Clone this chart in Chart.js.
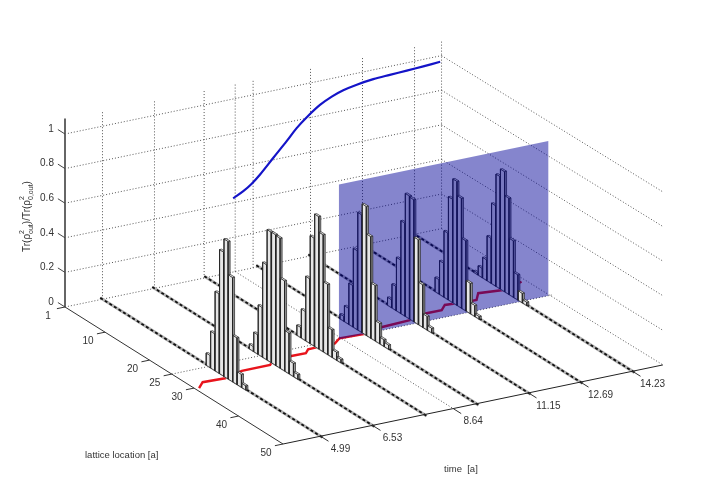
<!DOCTYPE html>
<html>
<head>
<meta charset="utf-8">
<title>Purity vs time and lattice location</title>
<script src="https://cdn.jsdelivr.net/npm/chart.js@4"></script>
<style>
  html, body { margin: 0; padding: 0; background: #fff; }
  canvas { display: block; filter: blur(0.45px); }
</style>
</head>
<body>
<canvas id="chart" width="702" height="499"></canvas>
<script>
// times of the seven histogram rows, and the first lattice site of each one
const rowTimes = [4.99, 6.53, 8.07, 9.61, 11.15, 12.69, 14.23];
const rowFirstSite = [25, 23, 22, 20, 19, 18, 15];

// bar heights per row
const row1 = [0.071, 0.213, 0.46, 0.717, 0.795, 0.603, 0.27, 0.075, 0.025];
const row2 = [0.028, 0.112, 0.286, 0.549, 0.754, 0.755, 0.751, 0.521, 0.235, 0.077, 0.028];
const row3 = [0.059, 0.168, 0.373, 0.624, 0.765, 0.676, 0.406, 0.159, 0.046, 0.02];
const row4 = [0.028, 0.092, 0.239, 0.456, 0.68, 0.745, 0.587, 0.32, 0.118, 0.039, 0.025];
const row5 = [0.046, 0.139, 0.309, 0.537, 0.711, 0.705, 0.49, 0.246, 0.079, 0.027];
const row6 = [0.083, 0.195, 0.384, 0.597, 0.716, 0.635, 0.405, 0.176, 0.064, 0.016];
const row7 = [0.01, 0.054, 0.119, 0.26, 0.465, 0.649, 0.694, 0.556, 0.326, 0.146, 0.055, 0.02];
const rows = [row1, row2, row3, row4, row5, row6, row7];

// blue curve on the back wall
const blueTimes = [8.86, 9.16, 9.41, 9.65, 10.05, 10.45, 10.74, 11.04, 11.43, 11.78, 12.12, 12.52, 13.01, 13.5, 14.0, 14.49, 14.99];
const blueValues = [0.426, 0.455, 0.488, 0.53, 0.612, 0.693, 0.755, 0.806, 0.861, 0.895, 0.918, 0.934, 0.946, 0.951, 0.955, 0.96, 0.966];

// red line on the floor
const redTimes = [3.99, 4.28, 4.92, 5.55, 6.39, 6.5, 7.07, 7.6, 7.79, 8.05, 8.6, 8.88, 9.6, 10.26, 11.09, 11.7, 12.15, 12.4, 13.04, 13.28, 13.56, 14.23, 14.93];
const redSites = [30.3, 28.9, 29.1, 28.07, 28.05, 27.5, 26.8, 26.9, 25.96, 25.9, 25.85, 24.75, 25, 24.1, 23.8, 22.9, 22.9, 21.7, 22.1, 22.15, 20.4, 20.95, 19.75];

// axes
const timeTicks = [4.99, 6.53, 8.92, 11.15, 12.69, 14.23];
const timeTickLabels = ['4.99', '6.53', '8.64', '11.15', '12.69', '14.23'];
const wallTimes = [4.99, 6.53, 8.0, 8.92, 9.45, 11.15, 12.69, 14.23];
const siteTicks = [1, 10, 20, 25, 30, 40, 50];
const valueTicks = [0, 0.2, 0.4, 0.6, 0.8, 1];
const valueTickLabels = ['0', '0.2', '0.4', '0.6', '0.8', '1'];

const tMin = 3.88, tBack = 15.03, tMax = 15.13, zTop = 1.09;
const planeSite = 25, planeStart = 8.83, planeTop = 0.895;

// fixed view of the 3D box onto the flat chart scales
function proj(t, site, z) {
  return {
    x: 65 + (t - tMin) * 33.77 + (site - 1) * 4.449,
    y: 307 - (t - tMin) * 7.03 + (site - 1) * 2.796 - z * 173
  };
}

const sets = [];
function line(points, color, width, dash, tension) {
  sets.push({ data: points, showLine: true, borderColor: color, borderWidth: width, borderDash: dash || [], pointRadius: 0, tension: tension || 0, fill: false });
}
function poly(points, color, stroke, width) {
  sets.push({ data: points.concat([points[0]]), showLine: true, borderColor: stroke, borderWidth: width, backgroundColor: color, pointRadius: 0, tension: 0, fill: 'shape' });
}

function addBar(t, site, h) {
  const hs = 0.46, ht = 0.03;
  poly([proj(t - ht, site - hs, 0), proj(t - ht, site + hs, 0), proj(t - ht, site + hs, h), proj(t - ht, site - hs, h)], '#e6e6e6', '#222', 0.7);
  poly([proj(t - ht, site + hs, 0), proj(t + ht, site + hs, 0), proj(t + ht, site + hs, h), proj(t - ht, site + hs, h)], '#999', '#222', 0.7);
  poly([proj(t - ht, site - hs, h), proj(t - ht, site + hs, h), proj(t + ht, site + hs, h), proj(t + ht, site - hs, h)], '#f2f2f2', '#222', 0.7);
}

const dots = [1, 2];
const gridColor = '#555';

// walls
valueTicks.forEach(v => {
  line([proj(tMin, 1, v), proj(tBack, 1, v)], gridColor, 1, dots);
  line([proj(tBack, 1, v), proj(tMax, 50, v)], gridColor, 1, dots);
});
wallTimes.forEach(t => line([proj(t, 1, 0), proj(t, 1, zTop)], gridColor, 1, dots));
line([proj(tBack, 1, 0), proj(tBack, 1, zTop)], gridColor, 1, dots);

// floor
timeTicks.forEach(t => line([proj(t, 1, 0), proj(t, 50, 0)], gridColor, 1, dots));
line([proj(tMin, planeSite, 0), proj(tMax, planeSite, 0)], gridColor, 1, dots);

line(redTimes.map((t, i) => proj(t, redSites[i], 0)), '#e8141c', 2.4);

rowTimes.forEach(t => {
  line([proj(t, 0.5, 0), proj(t, 50.5, 0)], '#b4b4b4', 3);
  line([proj(t, 0.5, 0), proj(t, 50.5, 0)], '#111', 1.8, [3, 2.4]);
});

// blue curve
line(blueTimes.map((t, i) => proj(t, 1, blueValues[i])), '#1414c8', 2.2, [], 0.35);

// bars behind the plane, then the plane, then everything in front of it
for (let r = rows.length - 1; r >= 3; r--) {
  rows[r].forEach((h, i) => { if (rowFirstSite[r] + i < planeSite) addBar(rowTimes[r], rowFirstSite[r] + i, h); });
}
poly([proj(planeStart, planeSite, 0), proj(tBack, planeSite, 0), proj(tBack, planeSite, planeTop), proj(planeStart, planeSite, planeTop)], 'rgba(0,0,150,0.48)', 'rgba(0,0,150,0)', 0);
for (let r = rows.length - 1; r >= 0; r--) {
  rows[r].forEach((h, i) => { if (r < 3 || rowFirstSite[r] + i >= planeSite) addBar(rowTimes[r], rowFirstSite[r] + i, h); });
}

// axis lines and ticks
line([proj(tMin, 1, 0), proj(tMin, 1, zTop)], '#666', 2);
line([proj(tMin, 1, 0), proj(tMin, 50, 0)], '#333', 1);
line([proj(tMin, 50, 0), proj(tMax, 50, 0)], '#222', 1);
valueTicks.forEach(v => line([proj(tMin, 1, v), proj(tMin, -0.6, v)], '#444', 1));
siteTicks.forEach(s => line([proj(tMin, s, 0), proj(tMin - 0.24, s, 0)], '#333', 1));
timeTicks.forEach(t => line([proj(t, 50, 0), proj(t, 51.8, 0)], '#333', 1));

const labelPlugin = {
  id: 'boxLabels',
  afterDraw(chart) {
    const ctx = chart.ctx;
    const xs = chart.scales.x, ys = chart.scales.y;
    const at = p => ({ x: xs.getPixelForValue(p.x), y: ys.getPixelForValue(p.y) });
    const font = '"Liberation Sans", Arial, sans-serif';
    ctx.save();
    ctx.fillStyle = '#333';
    ctx.font = '10px ' + font;
    ctx.textAlign = 'center';
    ctx.textBaseline = 'middle';
    valueTicks.forEach((v, i) => {
      const p = at(proj(tMin, 1, v));
      ctx.fillText(valueTickLabels[i], p.x - (i === 0 || i === 5 ? 14 : 18), p.y - 5);
    });
    siteTicks.forEach(s => {
      const p = at(proj(tMin, s, 0));
      ctx.fillText(String(s), p.x - 17, p.y + 9);
    });
    timeTicks.forEach((t, i) => {
      const p = at(proj(t, 50, 0));
      ctx.fillText(timeTickLabels[i], p.x + 20, p.y + 13);
    });
    ctx.textAlign = 'left';
    ctx.font = '9.5px ' + font;
    ctx.fillText('lattice location [a]', 85, 455);
    ctx.fillText('time  [a]', 444, 469);

    // rotated y title with stacked super and subscripts
    ctx.translate(27, 252);
    ctx.rotate(-Math.PI / 2);
    const big = '10px ' + font, small = '7px ' + font;
    let x = 0;
    const run = s => { ctx.font = big; ctx.fillText(s, x, 0); x += ctx.measureText(s).width; };
    const stack = (sup, sub) => {
      ctx.font = small;
      ctx.fillText(sup, x, -5);
      ctx.fillText(sub, x, 4);
      x += Math.max(ctx.measureText(sup).width, ctx.measureText(sub).width);
    };
    run('Tr(ρ'); stack('2', 'out'); run(')/Tr(ρ'); stack('2', '0,out'); run(')');
    ctx.restore();
  }
};

new Chart(document.getElementById('chart'), {
  type: 'scatter',
  data: { datasets: sets.reverse() },
  options: {
    responsive: false,
    animation: false,
    events: [],
    layout: { padding: 0 },
    clip: false,
    plugins: { legend: { display: false }, tooltip: { enabled: false } },
    scales: {
      x: { type: 'linear', display: false, min: 0, max: 702 },
      y: { type: 'linear', display: false, min: 0, max: 499, reverse: true }
    }
  },
  plugins: [labelPlugin]
});
</script>
</body>
</html>
